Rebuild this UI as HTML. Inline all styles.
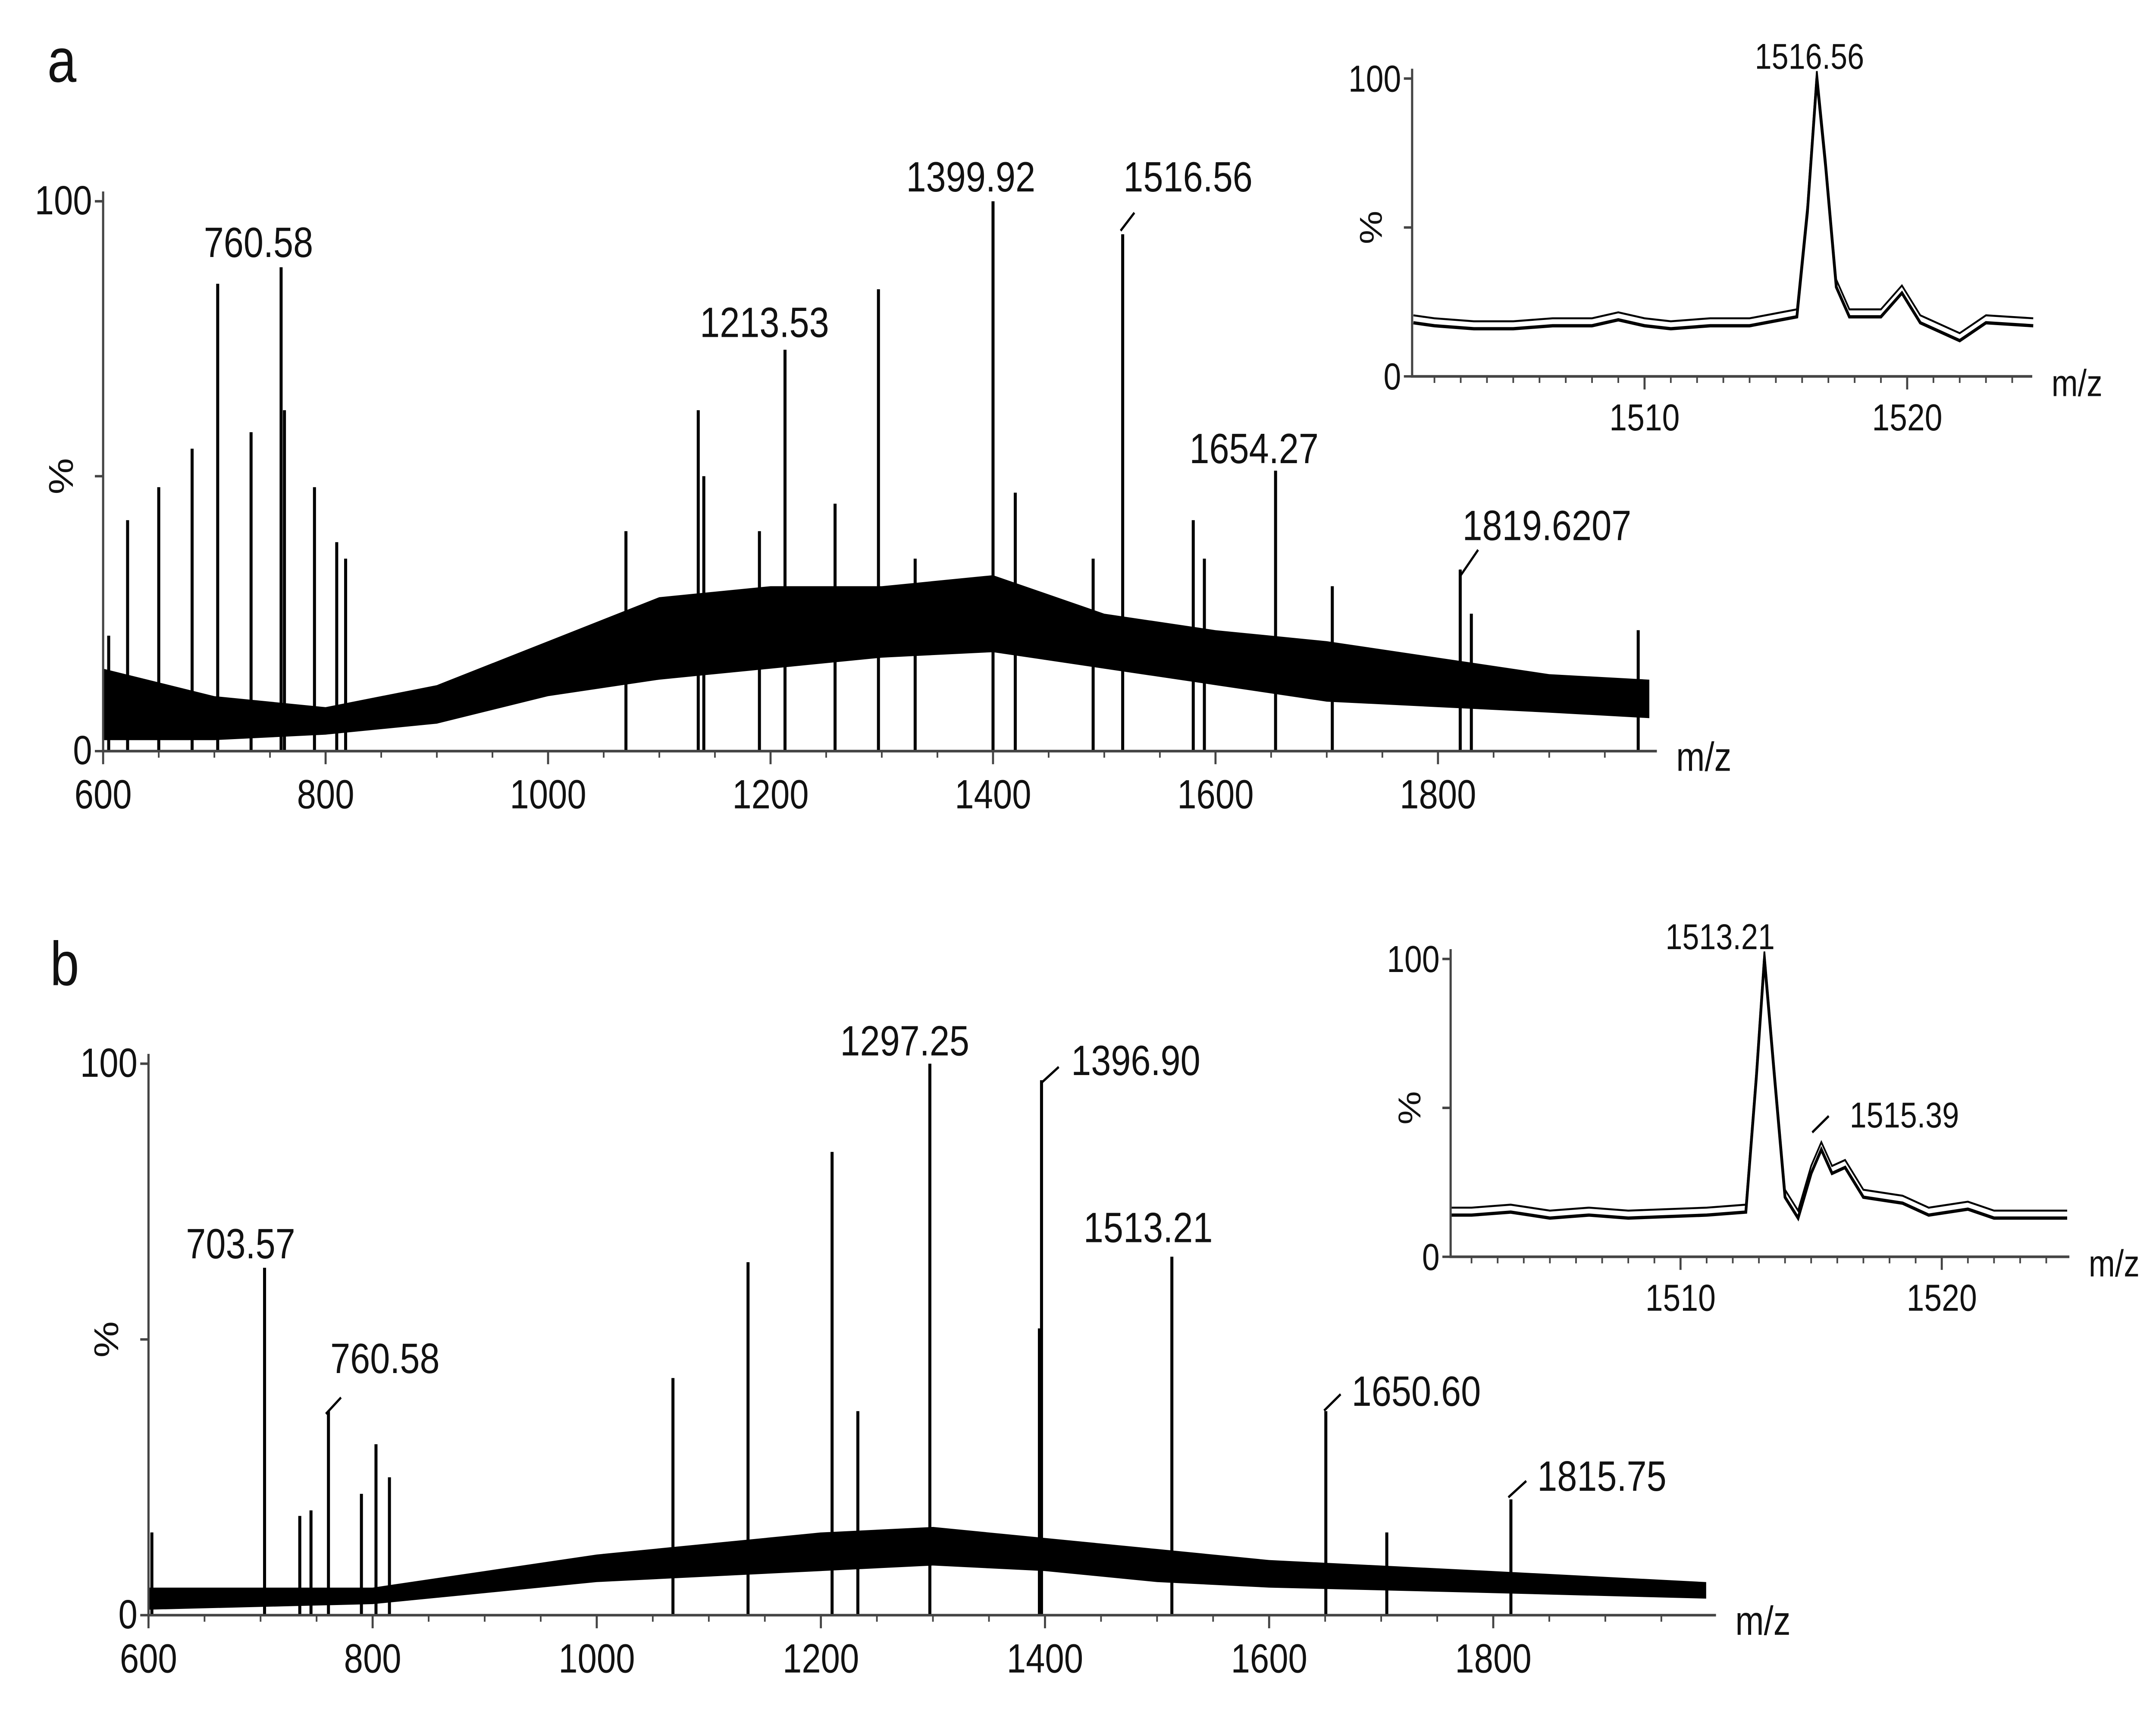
<!DOCTYPE html>
<html><head><meta charset="utf-8">
<style>
html,body{margin:0;padding:0;background:#fff;overflow:hidden;width:100vw;height:100vh;}
svg{display:block;width:100vw;height:100vh;}
text{font-family:"Liberation Sans",Arial,sans-serif;fill:#111;}
</style></head>
<body>
<svg id="fig" viewBox="0 0 1568 1048" preserveAspectRatio="none" xmlns="http://www.w3.org/2000/svg">
<rect width="1568" height="1048" fill="#fff"/>
</svg>
<script>
// ---------- DATA ----------
const aPeakMz  = [605,622,650,680,703,733,760,763,790,810,818,1070,1135,1140,1190,1213,1258,1297,1330,1400,1420,1490,1516.56,1580,1590,1654,1705,1820,1830,1980];
const aPeakPct = [21,42,48,55,85,58,88,62,48,38,35,40,62,50,40,73,45,84,35,100,47,35,94,42,35,51,30,33,25,22];
const aEnvMz   = [600,700,800,900,1000,1100,1200,1300,1400,1500,1600,1700,1800,1900,1990];
const aEnvLow  = [2,2,3,5,10,13,15,17,18,15,12,9,8,7,6];
const aEnvHigh = [15,10,8,12,20,28,30,30,32,25,22,20,17,14,13];

const bPeakMz  = [603,703.57,735,745,760.58,790,803,815,1068,1135,1210,1233,1297.25,1395,1396.9,1513.21,1650.6,1705,1815.75];
const bPeakPct = [15,63,18,19,37,22,31,25,43,64,84,37,100,52,97,65,37,15,21];
const bEnvMz   = [600,800,900,1000,1100,1200,1300,1400,1500,1600,1800,1990];
const bEnvLow  = [1,2,4,6,7,8,9,8,6,5,4,3];
const bEnvHigh = [5,5,8,11,13,15,16,14,12,10,8,6];

const iaMz  = [1501.2,1502,1503.5,1505,1506.5,1508,1509,1510,1511,1512.5,1514,1515.8,1516.2,1516.56,1516.9,1517.3,1517.8,1519,1519.8,1520.5,1522,1523,1524.8];
const iaPct = [18,17,16,16,17,17,19,17,16,17,17,20,55,100,70,30,20,20,28,18,12,18,17];
const ibMz  = [1501.2,1502,1503.5,1505,1506.5,1508,1511,1512.5,1512.9,1513.21,1513.6,1514,1514.5,1515,1515.39,1515.8,1516.3,1517,1518.5,1519.5,1521,1522,1524.8];
const ibPct = [14,14,15,13,14,13,14,15,60,100,60,20,13,28,36,28,30,20,18,14,16,13,13];

const aTicks = [600,800,1000,1200,1400,1600,1800];
const iTicks = [1510,1520];

// ---------- DRAW ----------
const svg=document.getElementById('fig');
const NS='http://www.w3.org/2000/svg';
function mk(tag,attrs,parent){const e=document.createElementNS(NS,tag);for(const k in attrs)e.setAttribute(k,attrs[k]);(parent||svg).appendChild(e);return e;}
function txt(s,x,y,size,parent,anchor){const t=mk('text',{x:x,y:y,'font-size':size,'text-anchor':anchor||'middle'},parent);t.textContent=s;return t;}

function panel(cfg){
  const g=mk('g',{});
  
  
  const X=m=>cfg.x0+(m-cfg.m0)*cfg.pxPer;
  const Y=p=>cfg.y0-(cfg.y0-cfg.y100)*p/100;
  if(cfg.envMz){
    let pts=[];
    cfg.envMz.forEach((m,i)=>pts.push(X(m)+','+Y(cfg.envHigh[i])));
    for(let i=cfg.envMz.length-1;i>=0;i--)pts.push(X(cfg.envMz[i])+','+Y(cfg.envLow[i]));
    const band=mk('polygon',{points:pts.join(' '),fill:'#000'},g);
    
    
  }
  if(cfg.peakMz){
    cfg.peakMz.forEach((m,i)=>{
      const l=mk('line',{x1:X(m),x2:X(m),y1:Y(0),y2:Y(cfg.peakPct[i]),stroke:'#000','stroke-width':2.2},g);
      
      
    });
  }
  if(cfg.profMz){
    const pts=cfg.profMz.map((m,i)=>X(m)+','+Y(cfg.profPct[i])).join(' ');
    const pl=mk('polyline',{points:pts,fill:'none',stroke:'#000','stroke-width':2},g);
    
    
    const pts2=cfg.profMz.map((m,i)=>X(m)+','+Y(cfg.profPct[i]+2.5)).join(' ');
    mk('polyline',{points:pts2,fill:'none',stroke:'#000','stroke-width':1.2},g);
  }
  const ax=mk('path',{d:`M${cfg.x0} ${cfg.y100-6} V${cfg.y0} H${cfg.xEnd}`,stroke:'#444','stroke-width':1.6,fill:'none'},g);
  
  
  cfg.ticks.forEach(t=>{
    mk('line',{x1:X(t),x2:X(t),y1:cfg.y0,y2:cfg.y0+8,stroke:'#444','stroke-width':1.5},g);
    const tl=txt(String(t),X(t),cfg.y0+cfg.tfs+10,cfg.tfs,g);
    
    
  });
  for(let m=Math.ceil(cfg.m0/cfg.minor)*cfg.minor;X(m)<=cfg.xEnd;m+=cfg.minor){
    mk('line',{x1:X(m),x2:X(m),y1:cfg.y0,y2:cfg.y0+4,stroke:'#444','stroke-width':1.2},g);
  }
  [0,50,100].forEach(p=>mk('line',{x1:cfg.x0-6,x2:cfg.x0,y1:Y(p),y2:Y(p),stroke:'#444','stroke-width':1.5},g));
  txt('100',cfg.x0-8,Y(100)+8,cfg.tfs,g,'end');
  txt('0',cfg.x0-8,Y(0)+8,cfg.tfs,g,'end');
  const pc=mk('text',{x:0,y:0,'font-size':cfg.tfs,'text-anchor':'middle',transform:`translate(${cfg.x0-22},${Y(50)}) rotate(-90)`},g);
  pc.textContent='%';
  
  
  const mz=txt('m/z',cfg.xEnd+14,cfg.y0+12,cfg.tfs,g,'start');
  
  
  (cfg.labels||[]).forEach(L=>{
    const tx=txt(L.t,L.x,L.y,cfg.lfs,g,'middle');
    
    
    if(L.lead){mk('polyline',{points:L.lead,fill:'none',stroke:'#000','stroke-width':1.5},g);}
  });
}

panel({name:'panel-a-spectrum',x0:75,m0:600,pxPer:161.8/200,xEnd:1205,y0:459,y100:123,ticks:aTicks,minor:50,tfs:25,lfs:26,
  envMz:aEnvMz,envLow:aEnvLow,envHigh:aEnvHigh,peakMz:aPeakMz,peakPct:aPeakPct,
  labels:[{t:'760.58',x:188,y:157},{t:'1399.92',x:706,y:117},{t:'1516.56',x:864,y:117,lead:'815,141 825,130'},
          {t:'1213.53',x:556,y:206},{t:'1654.27',x:912,y:283},{t:'1819.6207',x:1125,y:330,lead:'1062,348 1062,352 1075,336'}]});
panel({name:'panel-b-spectrum',x0:108,m0:600,pxPer:163/200,xEnd:1248,y0:987,y100:650,ticks:aTicks,minor:50,tfs:25,lfs:26,
  envMz:bEnvMz,envLow:bEnvLow,envHigh:bEnvHigh,peakMz:bPeakMz,peakPct:bPeakPct,
  labels:[{t:'1297.25',x:658,y:645},{t:'1396.90',x:826,y:657,lead:'757,662 770,652'},{t:'703.57',x:175,y:769},
          {t:'760.58',x:280,y:839,lead:'237,864 248,854'},{t:'1513.21',x:835,y:759},
          {t:'1650.60',x:1030,y:859,lead:'963,862 975,852'},{t:'1815.75',x:1165,y:911,lead:'1097,915 1110,905'}]});
panel({name:'panel-a-inset',x0:1027,m0:1501.15,pxPer:19.1,xEnd:1478,y0:230,y100:48,ticks:iTicks,minor:1,tfs:23,lfs:22,
  profMz:iaMz,profPct:iaPct,labels:[{t:'1516.56',x:1316,y:42}]});
panel({name:'panel-b-inset',x0:1055,m0:1501.2,pxPer:19,xEnd:1505,y0:768,y100:586,ticks:iTicks,minor:1,tfs:23,lfs:22,
  profMz:ibMz,profPct:ibPct,labels:[{t:'1513.21',x:1251,y:580},{t:'1515.39',x:1385,y:689,lead:'1318,692 1330,682'}]});

const la=txt('a',45,50,38,svg);
const lb=txt('b',47,602,38,svg);
</script>
</body></html>
